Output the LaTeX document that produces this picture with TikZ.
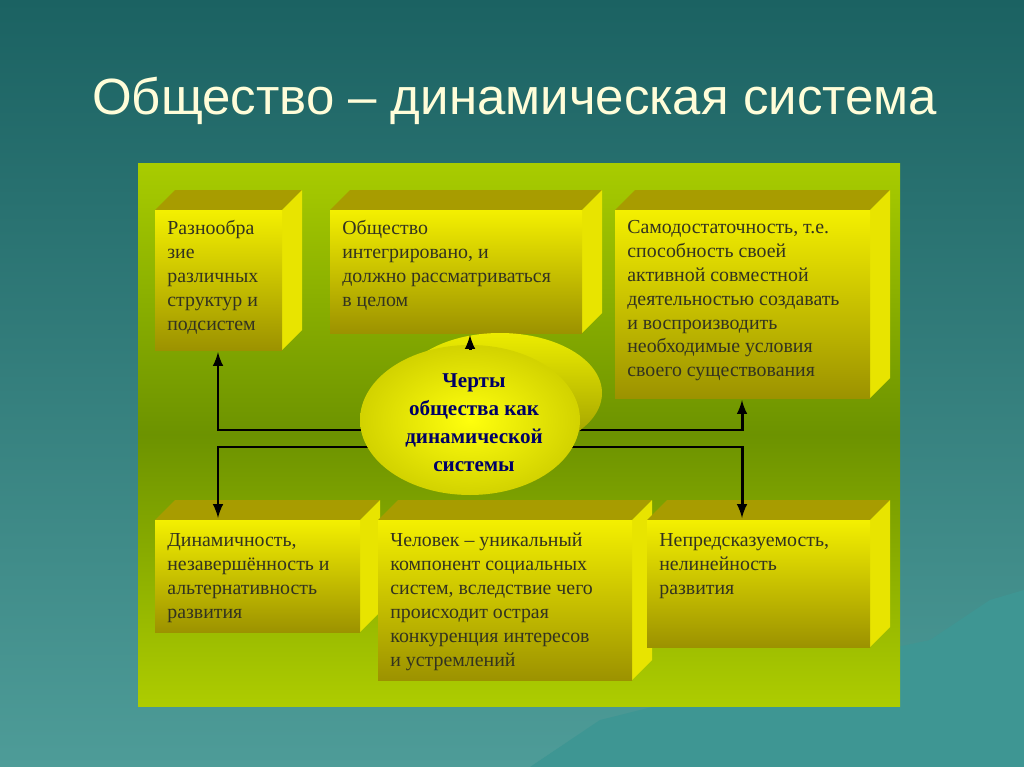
\documentclass[tikz,border=0pt]{standalone}
\usepackage{fontspec}
\setmainfont{Liberation Serif}
\newfontfamily\titlefont{Liberation Sans}
\usetikzlibrary{arrows,shapes,calc}

\definecolor{bgtop}{HTML}{1B6262}
\definecolor{bgbot}{HTML}{4E9C98}
\definecolor{boxtop}{HTML}{F4F000}
\definecolor{boxbot}{HTML}{9C9200}
\definecolor{boxside}{HTML}{E8E400}
\definecolor{boxlid}{HTML}{A89C00}
\definecolor{txt}{HTML}{333320}

\tikzset{
  boxtext/.style={anchor=north west, align=left, inner sep=0pt,
    font=\fontsize{11.3}{13.6}\selectfont, text=txt},
  link/.style={line width=1.7pt, black},
  linkarrow/.style={link, -latex}
}

% front face from (#2,#3) to (#4,#5), depth 20
\newcommand{\slab}[5]{
  \fill[boxlid] (#2,#3) -- ++(20,-20) -- (#4+20,#3-20) -- (#4,#3) -- cycle;
  \fill[boxside] (#4,#3) -- (#4+20,#3-20) -- (#4+20,#5-20) -- (#4,#5) -- cycle;
  \shade[top color=boxtop, bottom color=boxbot] (#2,#3) rectangle (#4,#5);
  \path (#2,#3) coordinate (#1nw) (#4,#5) coordinate (#1se);
}

\begin{document}
\begin{tikzpicture}[x=0.02cm,y=-0.02cm]
  \shade[top color=bgtop, bottom color=bgbot] (0,0) rectangle (1024,767);
  \useasboundingbox (0,0) rectangle (1024,767);
  % hills
  \fill[bgbot!80!teal] (530,767) -- (600,720) -- (660,705) -- (720,690) -- (780,700)
    -- (860,655) -- (930,640) -- (990,600) -- (1024,590) -- (1024,767) -- cycle;

  \node[font=\titlefont\fontsize{29}{34}\selectfont, text=yellow!15, anchor=west] (title) at (86,101) {Общество – динамическая система};

  % panel
  \shade[top color=lime!70!yellow!80!black, bottom color=lime!60!yellow!80!black,
    middle color=olive!85!green] (138,163) rectangle (900,706);

  \slab{b1}{155}{210}{282}{350}
  \slab{b2}{330}{210}{582}{333}
  \slab{b3}{615}{210}{870}{398}
  \slab{b4}{155}{520}{360}{632}
  \slab{b5}{378}{520}{632}{680}
  \slab{b6}{647}{520}{870}{647}

  \node[boxtext] (t1) at (167,220) {Разнообра\\зие\\различных\\структур и\\подсистем};
  \node[boxtext] (t2) at (342,220) {Общество\\интегрировано, и\\должно рассматриваться\\в целом};
  \node[boxtext] (t3) at (627,220) {Самодостаточность, т.е.\\способность своей\\активной совместной\\деятельностью создавать\\и воспроизводить\\необходимые условия\\своего существования};
  \node[boxtext] (t4) at (167,533) {Динамичность,\\незавершённость и\\альтернативность\\развития};
  \node[boxtext] (t5) at (390,533) {Человек – уникальный\\компонент социальных\\систем, вследствие чего\\происходит острая\\конкуренция интересов\\и устремлений};
  \node[boxtext] (t6) at (659,533) {Непредсказуемость,\\нелинейность\\развития};

  % links
  \coordinate (l1) at (218,430);
  \coordinate (l2) at (218,447);
  \coordinate (r1) at (742,430);
  \coordinate (r2) at (742,447);
  \draw[linkarrow] (470,430) -- (l1) -- (218,352);
  \draw[linkarrow] (470,447) -- (l2) -- (218,518);
  \draw[linkarrow] (470,430) -- (r1) -- (742,400);
  \draw[linkarrow] (470,447) -- (r2) -- (742,518);

  % centre
  \shade[top color=yellow!85!olive, bottom color=olive!80!yellow] (500,393) ellipse [x radius=102, y radius=60];
  \shade[inner color=yellow!95!white, outer color=yellow!65!olive] (470,420) ellipse [x radius=110, y radius=75];
  \draw[linkarrow] (470,350) -- (470,335);
  \node[align=center, font=\bfseries\fontsize{12}{16}\selectfont, text=blue!40!black] (core) at (474,423)
    {Черты\\общества как\\динамической\\системы};
\end{tikzpicture}
\end{document}
